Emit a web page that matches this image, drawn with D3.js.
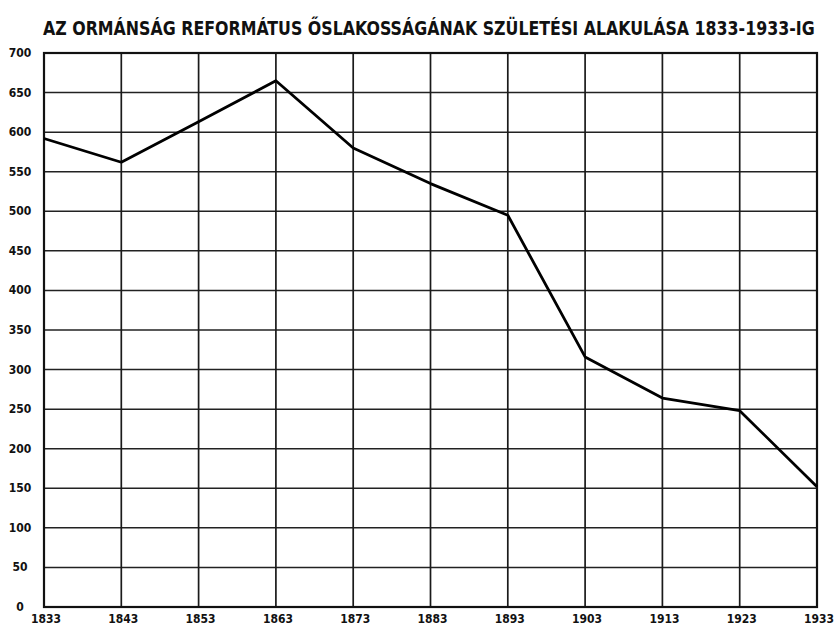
<!DOCTYPE html>
<html>
<head>
<meta charset="utf-8">
<script src="https://cdn.jsdelivr.net/npm/d3@7"></script>
<style>
  body { margin: 0; background: #fff; }
  text { font-family: "DejaVu Sans Condensed", "Liberation Sans Narrow", "DejaVu Sans", sans-serif; fill: #111; }
</style>
</head>
<body>
<svg id="chart" width="835" height="628"></svg>
<script>
const title = "AZ ORMÁNSÁG REFORMÁTUS ŐSLAKOSSÁGÁNAK SZÜLETÉSI ALAKULÁSA 1833-1933-IG";
const years = [1833, 1843, 1853, 1863, 1873, 1883, 1893, 1903, 1913, 1923, 1933];
const births = [592, 562, 613, 665, 580, 535, 495, 316, 264, 248, 152];
const yTicks = [0, 50, 100, 150, 200, 250, 300, 350, 400, 450, 500, 550, 600, 650, 700];

const svg = d3.select("#chart");
const margin = { top: 53, right: 18, bottom: 21, left: 44 };
const width = 835 - margin.left - margin.right;
const height = 628 - margin.top - margin.bottom;

const x = d3.scaleLinear().domain([1833, 1933]).range([margin.left, margin.left + width]);
const y = d3.scaleLinear().domain([0, 700]).range([margin.top + height, margin.top]);

// title: tall hand lettering, squeezed horizontally to span the plot
const titleG = svg.append("g");
const titleText = titleG.append("text")
    .attr("x", 0)
    .attr("y", 0)
    .style("font-size", "20px")
    .style("font-weight", "bold")
    .text(title);
const natural = titleText.node().getComputedTextLength();
const sx = Math.min(1, 772 / natural);
titleG.attr("transform", "translate(43,35) scale(" + sx + ",1)");

// grid
const g = svg.append("g");
g.selectAll(".hline")
    .data(yTicks)
    .enter()
    .append("line")
    .attr("x1", x(1833))
    .attr("x2", x(1933))
    .attr("y1", d => y(d))
    .attr("y2", d => y(d))
    .attr("stroke", "#222")
    .attr("stroke-width", 1.5);

g.selectAll(".vline")
    .data(years)
    .enter()
    .append("line")
    .attr("x1", d => x(d))
    .attr("x2", d => x(d))
    .attr("y1", y(0))
    .attr("y2", y(700))
    .attr("stroke", "#1a1a1a")
    .attr("stroke-width", 1.7);

// frame
g.append("rect")
    .attr("x", x(1833))
    .attr("y", y(700))
    .attr("width", x(1933) - x(1833))
    .attr("height", y(0) - y(700))
    .attr("fill", "none")
    .attr("stroke", "#111")
    .attr("stroke-width", 2.2);

// y labels
svg.selectAll(".ylab")
    .data(yTicks)
    .enter()
    .append("text")
    .attr("x", 20)
    .attr("y", d => y(d) + 4)
    .style("text-anchor", "middle")
    .style("font-size", "12px")
    .style("font-weight", "bold")
    .text(d => d);

// x labels
svg.selectAll(".xlab")
    .data(years)
    .enter()
    .append("text")
    .attr("x", d => x(d) + 2)
    .attr("y", 623)
    .style("text-anchor", "middle")
    .style("font-size", "12px")
    .style("font-weight", "bold")
    .text(d => d);

// data line
const line = d3.line()
    .x((d, i) => x(years[i]))
    .y(d => y(d));

svg.append("path")
    .datum(births)
    .attr("d", line)
    .attr("fill", "none")
    .attr("stroke", "#000")
    .attr("stroke-width", 2.8)
    .attr("stroke-linejoin", "round");
</script>
</body>
</html>
